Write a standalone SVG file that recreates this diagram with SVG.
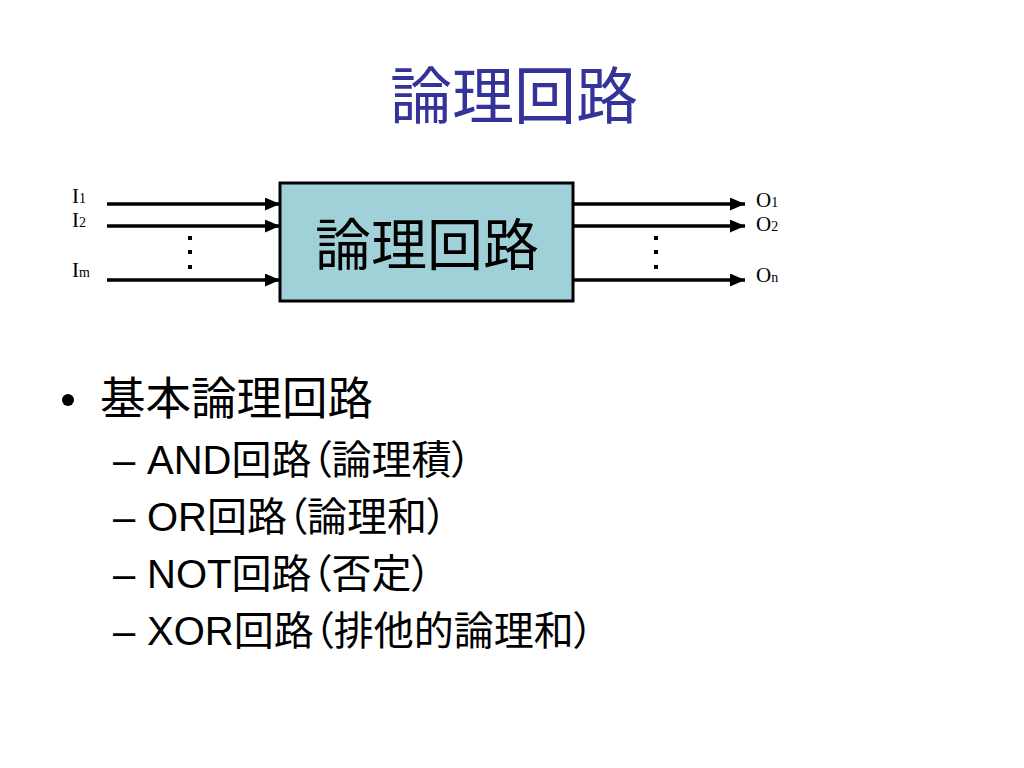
<svg xmlns="http://www.w3.org/2000/svg" width="1024" height="768" viewBox="0 0 1024 768">
<style>
.title{font-family:"Noto Sans CJK JP","Liberation Sans",sans-serif;font-size:62px;fill:#333399;text-anchor:middle}
.box{fill:#a0d0d8;stroke:#000;stroke-width:3}
.boxtxt{font-family:"Noto Sans CJK JP","Liberation Sans",sans-serif;font-size:56px;fill:#000;text-anchor:middle}
.lbl{font-family:"Liberation Serif","Times New Roman",serif;font-size:21px;fill:#000}
.sub{font-size:14px}
.wire{stroke:#000;stroke-width:3.5;fill:none;marker-end:url(#ah)}
.dot{fill:#000}
.b1{font-family:"Liberation Sans","Noto Sans CJK JP",sans-serif;font-size:45.5px;fill:#000}
.b2{font-family:"Liberation Sans","Noto Sans CJK JP",sans-serif;font-size:40px;fill:#000;font-feature-settings:"palt"}
</style>
<defs>
<marker id="ah" markerWidth="15" markerHeight="13" refX="15" refY="6.5" orient="auto" markerUnits="userSpaceOnUse">
<path d="M0,0 L15,6.5 L0,13 Z" fill="#000"/>
</marker>
</defs>
<rect width="1024" height="768" fill="#fff"/>
<text id="title" class="title" x="514" y="119">論理回路</text>
<g id="logic-box">
<rect class="box" x="280" y="183" width="293" height="118"/>
<text class="boxtxt" x="427" y="265">論理回路</text>
</g>
<g id="input-labels">
<text class="lbl" x="72" y="203">I<tspan class="sub">1</tspan></text>
<text class="lbl" x="72" y="227">I<tspan class="sub">2</tspan></text>
<text class="lbl" x="72" y="277">I<tspan class="sub">m</tspan></text>
</g>
<g id="output-labels">
<text class="lbl" x="756" y="207">O<tspan class="sub">1</tspan></text>
<text class="lbl" x="756" y="231">O<tspan class="sub">2</tspan></text>
<text class="lbl" x="756" y="282">O<tspan class="sub">n</tspan></text>
</g>
<g id="connectors">
<line class="wire" x1="107" y1="204" x2="280" y2="204"/>
<line class="wire" x1="107" y1="226" x2="280" y2="226"/>
<line class="wire" x1="107" y1="280" x2="280" y2="280"/>
<line class="wire" x1="573" y1="204" x2="745" y2="204"/>
<line class="wire" x1="573" y1="226" x2="745" y2="226"/>
<line class="wire" x1="573" y1="280" x2="745" y2="280"/>
</g>
<g id="dots-left">
<rect class="dot" x="188" y="236" width="4" height="4"/>
<rect class="dot" x="188" y="250" width="4" height="4"/>
<rect class="dot" x="188" y="265" width="4" height="4"/>
</g>
<g id="dots-right">
<rect class="dot" x="654" y="236" width="4" height="4"/>
<rect class="dot" x="654" y="250" width="4" height="4"/>
<rect class="dot" x="654" y="265" width="4" height="4"/>
</g>
<g id="bullets">
<circle cx="68" cy="400" r="6" fill="#000"/>
<text class="b1" x="100" y="415">基本論理回路</text>
<text class="b2" x="113" y="474">–</text>
<text class="b2" x="147" y="474">AND回路（論理積）</text>
<text class="b2" x="113" y="531">–</text>
<text class="b2" x="147" y="531">OR回路（論理和）</text>
<text class="b2" x="113" y="588">–</text>
<text class="b2" x="147" y="588">NOT回路（否定）</text>
<text class="b2" x="113" y="645">–</text>
<text class="b2" x="147" y="645">XOR回路（排他的論理和）</text>
</g>
</svg>
